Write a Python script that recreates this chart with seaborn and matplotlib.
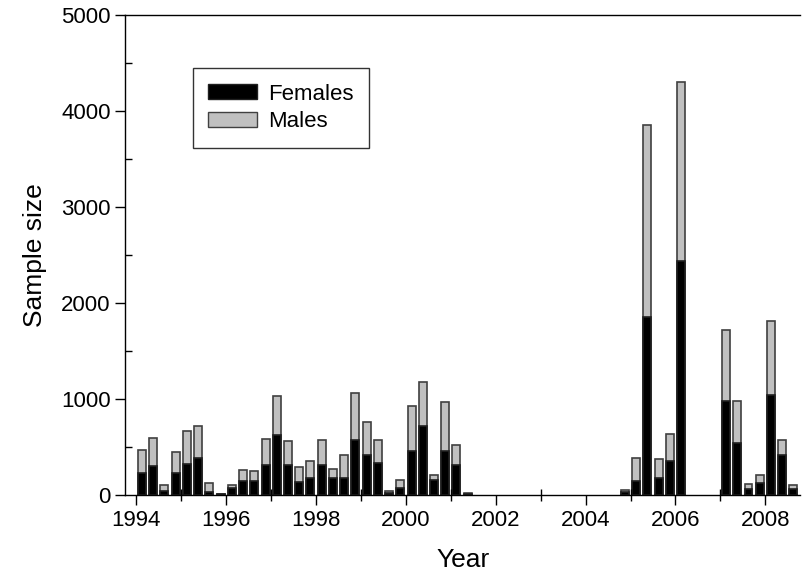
import numpy as np
import pandas as pd
import matplotlib
matplotlib.use("Agg")
import matplotlib.pyplot as plt
import seaborn as sns
from matplotlib.patches import Patch
from matplotlib.ticker import MultipleLocator

# muestreos trimestrales (centro del trimestre)
tiempo = [1994.125, 1994.375, 1994.625, 1994.875,
          1995.125, 1995.375, 1995.625, 1995.875,
          1996.125, 1996.375, 1996.625, 1996.875,
          1997.125, 1997.375, 1997.625, 1997.875,
          1998.125, 1998.375, 1998.625, 1998.875,
          1999.125, 1999.375, 1999.625, 1999.875,
          2000.125, 2000.375, 2000.625, 2000.875,
          2001.125, 2001.375,
          2004.875,
          2005.125, 2005.375, 2005.625, 2005.875,
          2006.125,
          2007.125, 2007.375, 2007.625, 2007.875,
          2008.125, 2008.375, 2008.625]

hembras = [229, 302, 45, 236,
           326, 392, 35, 10,
           80, 146, 149, 312,
           625, 319, 135, 181,
           312, 177, 181, 580,
           424, 337, 24, 80,
           458, 719, 163, 458,
           319, 10,
           31,
           149, 1860, 181, 354,
           2441,
           986, 542, 62, 125,
           1042, 417, 62]

machos = [240, 299, 66, 219,
          341, 327, 90, 7,
          28, 121, 108, 275,
          413, 243, 157, 179,
          268, 101, 239, 486,
          340, 236, 18, 83,
          476, 458, 52, 511,
          202, 18,
          28,
          243, 2000, 194, 285,
          1859,
          740, 437, 60, 87,
          774, 163, 46]

datos = pd.DataFrame({"Tiempo": tiempo, "Females": hembras, "Males": machos})
datos["Total"] = datos["Females"] + datos["Males"]

plt.rcParams['font.family'] = ['Liberation Sans', 'DejaVu Sans']

fig = plt.figure(figsize=(8.02, 5.82), dpi=100)
ax = fig.add_axes([0.156, 0.149, 0.842, 0.825])

# barras apiladas: total en gris y hembras en negro encima
sns.barplot(data=datos, x="Tiempo", y="Total", native_scale=True, width=0.71,
            color='#c0c0c0', edgecolor='#404040', linewidth=1.2, saturation=1, ax=ax)
sns.barplot(data=datos, x="Tiempo", y="Females", native_scale=True, width=0.71,
            color='black', edgecolor='#202020', linewidth=1.2, saturation=1, ax=ax)

ax.set_xlim(1993.75, 2008.78)
ax.set_ylim(0, 5000)
ax.set_xticks(range(1994, 2009, 2))
ax.set_xticklabels([str(a) for a in range(1994, 2009, 2)])
ax.xaxis.set_minor_locator(MultipleLocator(1))
ax.yaxis.set_major_locator(MultipleLocator(1000))
ax.yaxis.set_minor_locator(MultipleLocator(500))

ax.tick_params(axis='both', which='major', direction='out', length=7, width=1, labelsize=16, colors='black')
ax.tick_params(axis='x', which='minor', direction='inout', length=8, width=1)
ax.tick_params(axis='y', which='minor', direction='in', length=5, width=1)

ax.spines['right'].set_visible(False)
for lado in ['left', 'bottom', 'top']:
    ax.spines[lado].set_linewidth(1)
    ax.spines[lado].set_color('black')

ax.set_xlabel("Year", fontsize=19, labelpad=12)
ax.set_ylabel("Sample size", fontsize=19, labelpad=10)

manejadores = [Patch(facecolor='black', edgecolor='#202020', label='Females'),
               Patch(facecolor='#c0c0c0', edgecolor='#404040', label='Males')]
leyenda = ax.legend(handles=manejadores, loc='upper left', bbox_to_anchor=(0.1, 0.89),
                    borderaxespad=0, fontsize=16, frameon=True, fancybox=False,
                    edgecolor='black', handlelength=2.2, handleheight=0.65,
                    handletextpad=0.5, borderpad=0.7, labelspacing=0.3)
leyenda.get_frame().set_linewidth(1)

plt.savefig("out.png", dpi=100)
